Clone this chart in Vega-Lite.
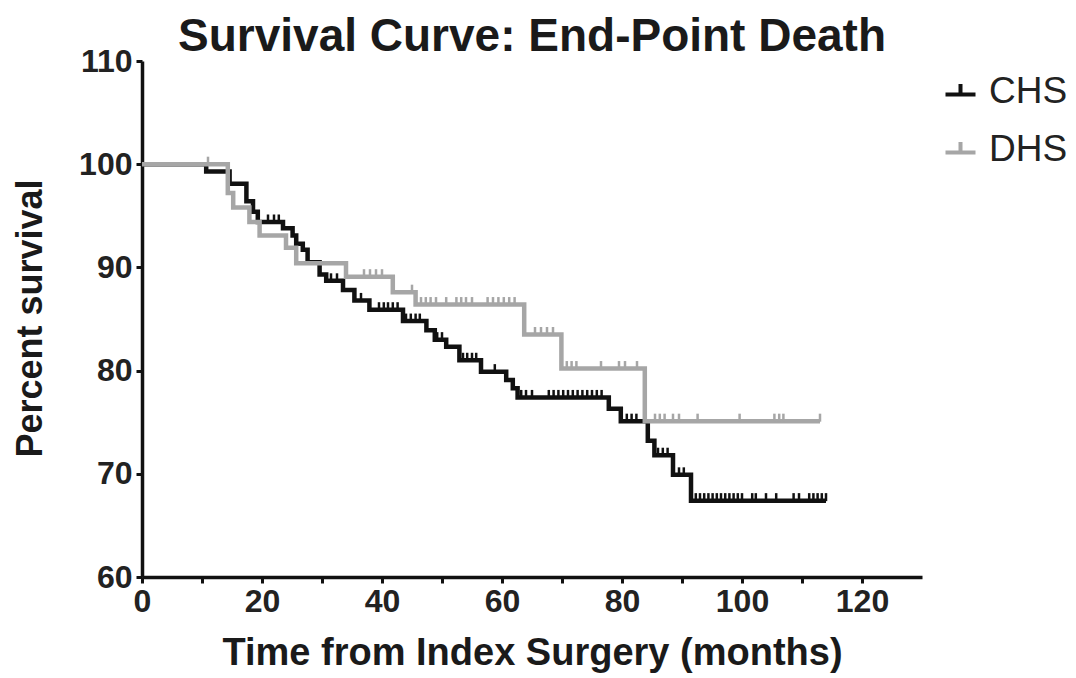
{
  "$schema": "https://vega.github.io/schema/vega-lite/v6.json",
  "width": 780,
  "height": 516,
  "autosize": {"type": "none"},
  "padding": {"left": 142, "top": 61, "right": 154, "bottom": 101},
  "background": "white",
  "title": {
    "text": "Survival Curve: End-Point Death",
    "font": "Liberation Sans",
    "fontSize": 46,
    "fontWeight": "bold",
    "color": "#1a1a1a",
    "anchor": "middle",
    "frame": "group",
    "offset": -16
  },
  "config": {
    "view": {"stroke": null},
    "axis": {
      "grid": false,
      "domainColor": "#111111",
      "domainWidth": 3.5,
      "tickColor": "#111111",
      "tickWidth": 3,
      "tickSize": 6,
      "labelFont": "Liberation Sans",
      "labelFontWeight": "bold",
      "labelFontSize": 32,
      "labelColor": "#222222",
      "labelOverlap": false,
      "labelFlush": false,
      "titleFont": "Liberation Sans",
      "titleFontWeight": "bold",
      "titleColor": "#1a1a1a"
    }
  },
  "datasets": {
    "steps": [
      {"group": "CHS", "month": 0, "surv": 100},
      {"group": "CHS", "month": 10.7, "surv": 99.3},
      {"group": "CHS", "month": 14.6, "surv": 98.1},
      {"group": "CHS", "month": 17.4, "surv": 96.4},
      {"group": "CHS", "month": 18.5, "surv": 95.4},
      {"group": "CHS", "month": 19.3, "surv": 94.4},
      {"group": "CHS", "month": 23.5, "surv": 93.8},
      {"group": "CHS", "month": 25.1, "surv": 93.1},
      {"group": "CHS", "month": 25.7, "surv": 92.3},
      {"group": "CHS", "month": 26.8, "surv": 91.7},
      {"group": "CHS", "month": 27.6, "surv": 90.5},
      {"group": "CHS", "month": 29.6, "surv": 89.3},
      {"group": "CHS", "month": 30.7, "surv": 88.7},
      {"group": "CHS", "month": 33.5, "surv": 87.8},
      {"group": "CHS", "month": 35.4, "surv": 86.8},
      {"group": "CHS", "month": 37.9, "surv": 85.9},
      {"group": "CHS", "month": 43.5, "surv": 84.8},
      {"group": "CHS", "month": 47.4, "surv": 83.9},
      {"group": "CHS", "month": 48.8, "surv": 83.0},
      {"group": "CHS", "month": 50.7, "surv": 82.3},
      {"group": "CHS", "month": 52.9, "surv": 81.0},
      {"group": "CHS", "month": 56.5, "surv": 79.9},
      {"group": "CHS", "month": 60.7, "surv": 79.1},
      {"group": "CHS", "month": 61.8, "surv": 78.3},
      {"group": "CHS", "month": 62.6, "surv": 77.4},
      {"group": "CHS", "month": 77.8, "surv": 76.3},
      {"group": "CHS", "month": 79.8, "surv": 75.1},
      {"group": "CHS", "month": 84.3, "surv": 73.2},
      {"group": "CHS", "month": 85.4, "surv": 71.8},
      {"group": "CHS", "month": 88.5, "surv": 69.9},
      {"group": "CHS", "month": 91.5, "surv": 67.4},
      {"group": "CHS", "month": 114, "surv": 67.4},
      {"group": "DHS", "month": 0, "surv": 100},
      {"group": "DHS", "month": 14.3, "surv": 97.2},
      {"group": "DHS", "month": 15.2, "surv": 95.8},
      {"group": "DHS", "month": 17.9, "surv": 94.4},
      {"group": "DHS", "month": 19.6, "surv": 93.1},
      {"group": "DHS", "month": 24.0, "surv": 91.9},
      {"group": "DHS", "month": 25.7, "surv": 90.4},
      {"group": "DHS", "month": 34.0, "surv": 89.1},
      {"group": "DHS", "month": 41.8, "surv": 87.6},
      {"group": "DHS", "month": 45.6, "surv": 86.4},
      {"group": "DHS", "month": 63.7, "surv": 83.5},
      {"group": "DHS", "month": 69.9, "surv": 80.2},
      {"group": "DHS", "month": 83.8, "surv": 75.1},
      {"group": "DHS", "month": 113, "surv": 75.1}
    ],
    "censor": [
      {"group": "CHS", "month": 21, "surv": 94.4},
      {"group": "CHS", "month": 22, "surv": 94.4},
      {"group": "CHS", "month": 22.8, "surv": 94.4},
      {"group": "CHS", "month": 31.5, "surv": 88.7},
      {"group": "CHS", "month": 32.5, "surv": 88.7},
      {"group": "CHS", "month": 36.5, "surv": 86.8},
      {"group": "CHS", "month": 39.5, "surv": 85.9},
      {"group": "CHS", "month": 40.3, "surv": 85.9},
      {"group": "CHS", "month": 41, "surv": 85.9},
      {"group": "CHS", "month": 41.8, "surv": 85.9},
      {"group": "CHS", "month": 42.6, "surv": 85.9},
      {"group": "CHS", "month": 44, "surv": 84.8},
      {"group": "CHS", "month": 44.8, "surv": 84.8},
      {"group": "CHS", "month": 45.6, "surv": 84.8},
      {"group": "CHS", "month": 46.3, "surv": 84.8},
      {"group": "CHS", "month": 49.2, "surv": 83.0},
      {"group": "CHS", "month": 50.0, "surv": 83.0},
      {"group": "CHS", "month": 53.5, "surv": 81.0},
      {"group": "CHS", "month": 54.2, "surv": 81.0},
      {"group": "CHS", "month": 55, "surv": 81.0},
      {"group": "CHS", "month": 55.7, "surv": 81.0},
      {"group": "CHS", "month": 58.8, "surv": 79.9},
      {"group": "CHS", "month": 63.2, "surv": 77.4},
      {"group": "CHS", "month": 64, "surv": 77.4},
      {"group": "CHS", "month": 65, "surv": 77.4},
      {"group": "CHS", "month": 67.8, "surv": 77.4},
      {"group": "CHS", "month": 68.6, "surv": 77.4},
      {"group": "CHS", "month": 69.4, "surv": 77.4},
      {"group": "CHS", "month": 70.2, "surv": 77.4},
      {"group": "CHS", "month": 71, "surv": 77.4},
      {"group": "CHS", "month": 71.8, "surv": 77.4},
      {"group": "CHS", "month": 72.6, "surv": 77.4},
      {"group": "CHS", "month": 73.4, "surv": 77.4},
      {"group": "CHS", "month": 74.2, "surv": 77.4},
      {"group": "CHS", "month": 75, "surv": 77.4},
      {"group": "CHS", "month": 75.8, "surv": 77.4},
      {"group": "CHS", "month": 76.6, "surv": 77.4},
      {"group": "CHS", "month": 80.8, "surv": 75.1},
      {"group": "CHS", "month": 81.6, "surv": 75.1},
      {"group": "CHS", "month": 82.4, "surv": 75.1},
      {"group": "CHS", "month": 86, "surv": 71.8},
      {"group": "CHS", "month": 86.8, "surv": 71.8},
      {"group": "CHS", "month": 87.6, "surv": 71.8},
      {"group": "CHS", "month": 89.5, "surv": 69.9},
      {"group": "CHS", "month": 90.3, "surv": 69.9},
      {"group": "CHS", "month": 92.3, "surv": 67.4},
      {"group": "CHS", "month": 93, "surv": 67.4},
      {"group": "CHS", "month": 93.7, "surv": 67.4},
      {"group": "CHS", "month": 94.4, "surv": 67.4},
      {"group": "CHS", "month": 95.1, "surv": 67.4},
      {"group": "CHS", "month": 95.8, "surv": 67.4},
      {"group": "CHS", "month": 96.5, "surv": 67.4},
      {"group": "CHS", "month": 97.2, "surv": 67.4},
      {"group": "CHS", "month": 97.9, "surv": 67.4},
      {"group": "CHS", "month": 98.6, "surv": 67.4},
      {"group": "CHS", "month": 99.3, "surv": 67.4},
      {"group": "CHS", "month": 100, "surv": 67.4},
      {"group": "CHS", "month": 101.7, "surv": 67.4},
      {"group": "CHS", "month": 102.3, "surv": 67.4},
      {"group": "CHS", "month": 104, "surv": 67.4},
      {"group": "CHS", "month": 105.7, "surv": 67.4},
      {"group": "CHS", "month": 108.6, "surv": 67.4},
      {"group": "CHS", "month": 109.5, "surv": 67.4},
      {"group": "CHS", "month": 111.2, "surv": 67.4},
      {"group": "CHS", "month": 111.9, "surv": 67.4},
      {"group": "CHS", "month": 112.6, "surv": 67.4},
      {"group": "CHS", "month": 113.3, "surv": 67.4},
      {"group": "CHS", "month": 114, "surv": 67.4},
      {"group": "DHS", "month": 11, "surv": 100},
      {"group": "DHS", "month": 37, "surv": 89.1},
      {"group": "DHS", "month": 38, "surv": 89.1},
      {"group": "DHS", "month": 39, "surv": 89.1},
      {"group": "DHS", "month": 40, "surv": 89.1},
      {"group": "DHS", "month": 45, "surv": 87.6},
      {"group": "DHS", "month": 46.5, "surv": 86.4},
      {"group": "DHS", "month": 47.3, "surv": 86.4},
      {"group": "DHS", "month": 48.1, "surv": 86.4},
      {"group": "DHS", "month": 49, "surv": 86.4},
      {"group": "DHS", "month": 50.7, "surv": 86.4},
      {"group": "DHS", "month": 52.4, "surv": 86.4},
      {"group": "DHS", "month": 53.2, "surv": 86.4},
      {"group": "DHS", "month": 54, "surv": 86.4},
      {"group": "DHS", "month": 55, "surv": 86.4},
      {"group": "DHS", "month": 57.6, "surv": 86.4},
      {"group": "DHS", "month": 58.5, "surv": 86.4},
      {"group": "DHS", "month": 59.4, "surv": 86.4},
      {"group": "DHS", "month": 60.3, "surv": 86.4},
      {"group": "DHS", "month": 61.2, "surv": 86.4},
      {"group": "DHS", "month": 62.1, "surv": 86.4},
      {"group": "DHS", "month": 65.5, "surv": 83.5},
      {"group": "DHS", "month": 66.5, "surv": 83.5},
      {"group": "DHS", "month": 67.5, "surv": 83.5},
      {"group": "DHS", "month": 68.5, "surv": 83.5},
      {"group": "DHS", "month": 70.8, "surv": 80.2},
      {"group": "DHS", "month": 71.6, "surv": 80.2},
      {"group": "DHS", "month": 72.4, "surv": 80.2},
      {"group": "DHS", "month": 76.5, "surv": 80.2},
      {"group": "DHS", "month": 79.5, "surv": 80.2},
      {"group": "DHS", "month": 80.5, "surv": 80.2},
      {"group": "DHS", "month": 82.5, "surv": 80.2},
      {"group": "DHS", "month": 85.5, "surv": 75.1},
      {"group": "DHS", "month": 86.3, "surv": 75.1},
      {"group": "DHS", "month": 87.1, "surv": 75.1},
      {"group": "DHS", "month": 88.5, "surv": 75.1},
      {"group": "DHS", "month": 89.5, "surv": 75.1},
      {"group": "DHS", "month": 92.6, "surv": 75.1},
      {"group": "DHS", "month": 99.6, "surv": 75.1},
      {"group": "DHS", "month": 105.4, "surv": 75.1},
      {"group": "DHS", "month": 106.2, "surv": 75.1},
      {"group": "DHS", "month": 106.9, "surv": 75.1},
      {"group": "DHS", "month": 113, "surv": 75.1}
    ]
  },
  "encoding": {
    "x": {
      "field": "month",
      "type": "quantitative",
      "scale": {"domain": [0, 130], "nice": false},
      "axis": {
        "values": [0, 10, 20, 30, 40, 50, 60, 70, 80, 90, 100, 110, 120],
        "labelExpr": "datum.value % 20 === 0 ? datum.label : ''",
        "labelPadding": 3,
        "title": "Time from Index Surgery (months)",
        "titleFontSize": 38,
        "titleX": 390,
        "titleY": 87,
        "titleAlign": "center",
        "titleBaseline": "alphabetic"
      }
    },
    "y": {
      "field": "surv",
      "type": "quantitative",
      "scale": {"domain": [60, 110], "nice": false, "zero": false},
      "axis": {
        "values": [60, 70, 80, 90, 100, 110],
        "labelPadding": 4,
        "title": "Percent survival",
        "titleFontSize": 36,
        "titleAngle": -90,
        "titleX": -112,
        "titleY": 257,
        "titleAlign": "center",
        "titleBaseline": "middle"
      }
    },
    "color": {
      "field": "group",
      "type": "nominal",
      "scale": {"domain": ["CHS", "DHS"], "range": ["#111111", "#a6a6a6"]},
      "legend": {
        "orient": "none",
        "legendX": 800,
        "legendY": 12,
        "title": null,
        "symbolType": "M-1,0.2H1M0,0.2V-0.5",
        "symbolSize": 900,
        "symbolStrokeWidth": 4,
        "symbolOpacity": 1,
        "labelFont": "Liberation Sans",
        "labelFontSize": 37,
        "labelColor": "#222222",
        "labelOffset": 10,
        "rowPadding": 20,
        "padding": 0
      }
    }
  },
  "layer": [
    {
      "data": {"name": "steps"},
      "mark": {"type": "line", "interpolate": "step-after", "strokeWidth": 4.5},
      "encoding": {}
    },
    {
      "data": {"name": "censor"},
      "mark": {"type": "tick", "orient": "vertical", "size": 8, "thickness": 2.5, "yOffset": -3.5, "opacity": 1},
      "encoding": {}
    }
  ]
}
